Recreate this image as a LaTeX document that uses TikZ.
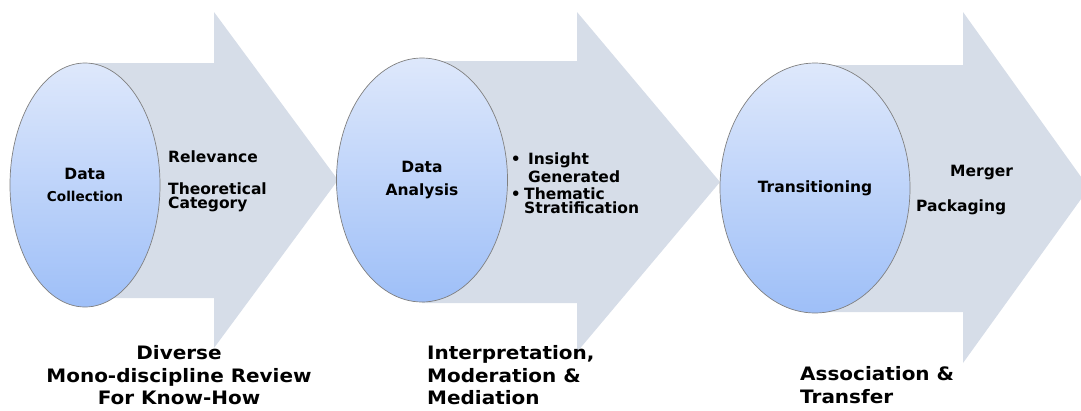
\documentclass[tikz,border=0pt]{standalone}
\usepackage{fontspec}
\setmainfont{DejaVu Sans}
\newfontfamily\widesans[FakeStretch=1.08]{DejaVu Sans}
\usepackage{tikz}
\usetikzlibrary{shapes,arrows}
\definecolor{arrowfill}{RGB}{214,221,232}
\definecolor{disctop}{RGB}{222,232,251}
\definecolor{discbot}{RGB}{158,191,248}
\tikzstyle{stagearrow} = [fill=arrowfill, draw=none]
\tikzstyle{stagedisc} = [ellipse, draw=gray, line width=0.7pt, top color=disctop, bottom color=discbot, inner sep=0pt, align=center, font=\bfseries\fontsize{15.5}{24}\selectfont]
\tikzstyle{sidetext} = [anchor=west, align=left, inner sep=0pt, font=\bfseries\fontsize{15.5}{14}\selectfont]
\tikzstyle{foottext} = [inner sep=0pt, font=\widesans\bfseries\fontsize{18.5}{22.5}\selectfont]

\begin{document}
\begin{tikzpicture}[x=1pt,y=-1pt]
\useasboundingbox (0,0) rectangle (1081,410);
% the three arrows
\fill [stagearrow] (85,63) -- (214,63) -- (214,12) -- (338,180) -- (214,348) -- (214,298) -- (85,298) -- cycle;
\fill [stagearrow] (422,61) -- (577,61) -- (577,12) -- (720,182) -- (577,352) -- (577,303) -- (422,303) -- cycle;
\fill [stagearrow] (815,65) -- (963,65) -- (963,12) -- (1089,188) -- (963,363) -- (963,312) -- (815,312) -- cycle;

% discs
\node [stagedisc, minimum width=150pt, minimum height=244pt] (collect) at (85,185)
  {Data\\[-2pt]{\fontsize{13.6}{15}\selectfont Collection}};
\node [stagedisc, minimum width=171pt, minimum height=244pt] (analyse) at (422,180)
  {Data\\[-1pt]Analysis};
\node [stagedisc, minimum width=190pt, minimum height=250pt] (transit) at (815,188)
  {Transitioning};

% texts beside the discs
\node [sidetext] (relev) at (168,157) {Relevance};
\node [sidetext] (theory) at (168,197) {Theoretical\\Category};
\node [sidetext] (insight) at (508,168) {\makebox[20pt][l]{\,•}Insight\\[2pt]\hspace*{20pt}Generated};
\node [sidetext] (thematic) at (508,201) {\makebox[16pt][l]{\,•}Thematic\\\hspace*{16pt}Stratification};
\node [sidetext] (merger) at (950,173) {Merger};
\node [sidetext] (packing) at (916,207) {Packaging};

% texts below the arrows
\node [foottext, align=center] (review) at (179,375.5) {Diverse\\Mono-discipline Review\\For Know-How};
\node [foottext, align=left, anchor=west] (interp) at (427,375.5) {Interpretation,\\Moderation \&\\Mediation};
\node [foottext, align=left, anchor=west] (assoc) at (800,385) {Association \&\\Transfer};
\end{tikzpicture}
\end{document}
